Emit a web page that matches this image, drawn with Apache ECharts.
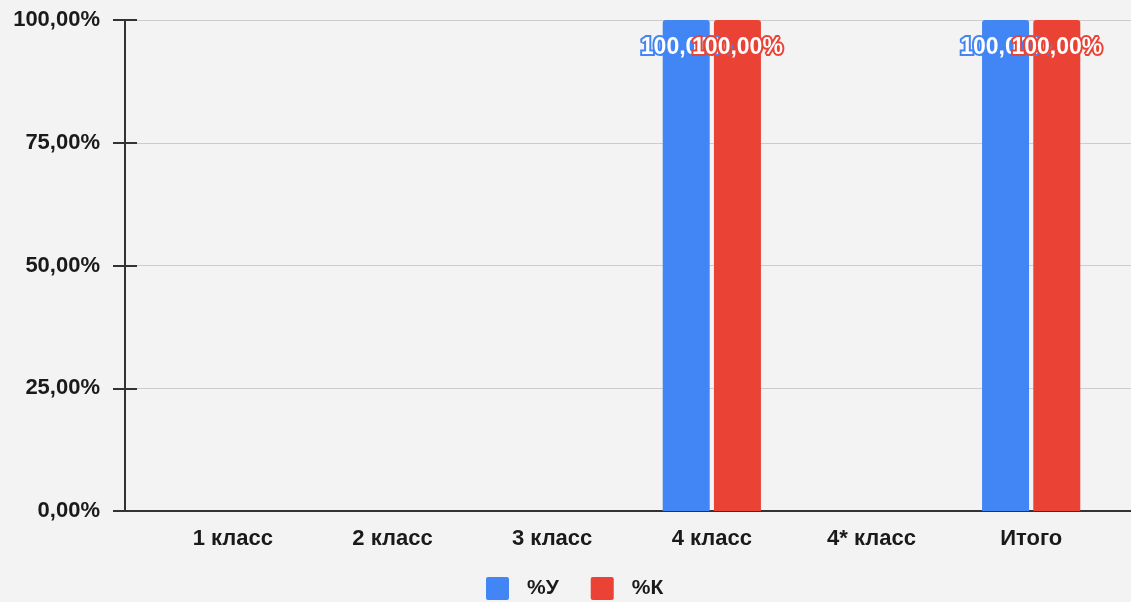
<!DOCTYPE html>
<html>
<head>
<meta charset="utf-8">
<script src="https://cdn.jsdelivr.net/npm/echarts@6/dist/echarts.min.js"></script>
<style>
html,body{margin:0;padding:0;background:#f3f3f3;}
#c{width:1131px;height:602px;}
</style>
</head>
<body>
<div id="c"></div>
<script>
var categories = ['1 класс', '2 класс', '3 класс', '4 класс', '4* класс', 'Итого'];
var seriesNames = ['%У', '%К'];
var valuesU = [0, 0, 0, 100, 0, 100];
var valuesK = [0, 0, 0, 100, 0, 100];
var yTicks = [0, 25, 50, 75, 100];

var colors = ['#4285F4', '#EA4335'];
var font = 'Liberation Sans, Arial, Helvetica, sans-serif';
function fmt(v){ return v.toFixed(2).replace('.', ',') + '%'; }

var chart = echarts.init(document.getElementById('c'), null, {renderer:'canvas'});
function barLabel(color){
  return {
    show: true, position: 'insideTop', distance: 16,
    formatter: function(p){ return p.value ? fmt(p.value) : ''; },
    color: '#ffffff', fontFamily: font, fontWeight: 'bold', fontSize: 23,
    textBorderColor: color, textBorderWidth: 4
  };
}
chart.setOption({
  backgroundColor: '#f3f3f3',
  animation: false,
  color: colors,
  grid: [
    {left: 125, right: 0, top: 20, bottom: 91},
    {left: 153, right: 20, top: 20, bottom: 91}
  ],
  legend: {
    bottom: 2, left: 486, padding: 0, itemWidth: 23, itemHeight: 23, itemGap: 32,
    icon: 'path://M2,0 L20,0 Q22,0 22,2 L22,20 Q22,22 20,22 L2,22 Q0,22 0,20 L0,2 Q0,0 2,0 Z',
    textStyle: {fontFamily: font, fontWeight: 'bold', fontSize: 21, color: '#1a1a1a', padding: [0,0,0,13]},
    data: seriesNames
  },
  xAxis: [
    {gridIndex: 0, type: 'category', data: [''], axisLine: {show: true, lineStyle: {color: '#333', width: 2}},
     axisTick: {show: false}, axisLabel: {show: false}, splitLine: {show: false}},
    {gridIndex: 1, type: 'category', data: categories, axisLine: {show: false}, axisTick: {show: false},
     axisLabel: {margin: 17, fontFamily: font, fontWeight: 'bold', fontSize: 22, color: '#1a1a1a'}}
  ],
  yAxis: [
    {gridIndex: 0, type: 'value', min: yTicks[0], max: yTicks[yTicks.length-1], interval: yTicks[1]-yTicks[0],
     axisLine: {show: true, lineStyle: {color: '#333', width: 2}},
     axisTick: {show: true, length: 12, lineStyle: {color: '#333', width: 2}},
     axisLabel: {formatter: fmt, margin: 25, fontFamily: font, fontWeight: 'bold', fontSize: 22, color: '#1a1a1a'},
     splitLine: {show: true, lineStyle: {color: '#cccccc', width: 1}}},
    {gridIndex: 0, type: 'value', min: yTicks[0], max: yTicks[yTicks.length-1], interval: yTicks[1]-yTicks[0],
     position: 'left', axisLine: {show: false},
     axisTick: {show: true, inside: true, length: 12, lineStyle: {color: '#333', width: 2}},
     axisLabel: {show: false}, splitLine: {show: false}},
    {gridIndex: 1, type: 'value', min: yTicks[0], max: yTicks[yTicks.length-1], show: false}
  ],
  series: [
    {name: seriesNames[0], type: 'bar', xAxisIndex: 1, yAxisIndex: 2, data: valuesU,
     barWidth: 47, barGap: '9%', itemStyle: {color: colors[0], borderRadius: [3,3,0,0]}, label: barLabel(colors[0])},
    {name: seriesNames[1], type: 'bar', xAxisIndex: 1, yAxisIndex: 2, data: valuesK,
     barWidth: 47, barGap: '9%', itemStyle: {color: colors[1], borderRadius: [3,3,0,0]}, label: barLabel(colors[1])}
  ]
});
</script>
</body>
</html>
